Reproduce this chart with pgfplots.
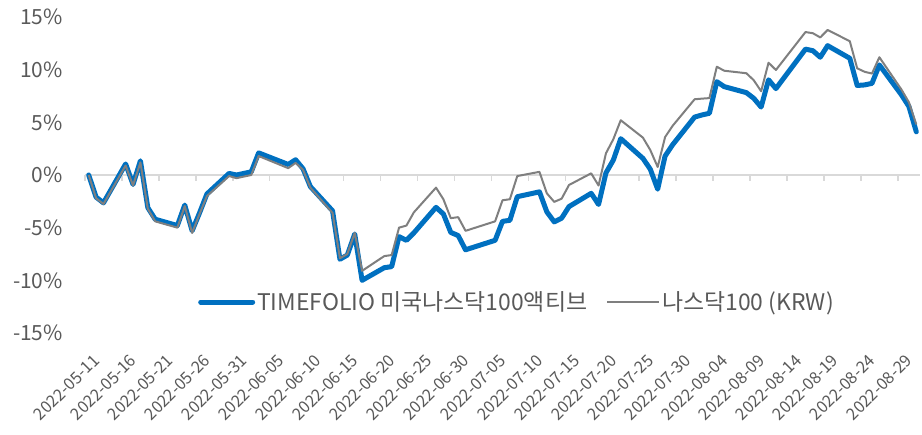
\documentclass[border=0pt]{standalone}
\usepackage{fontspec}
\setmainfont{Noto Sans CJK KR}
\usepackage{pgfplots}
\pgfplotsset{compat=1.18}
\usepackage{pgfplotstable}
\definecolor{tfblue}{HTML}{0070C0}
\definecolor{ndgray}{HTML}{7F7F7F}
\definecolor{txt}{HTML}{595959}
\definecolor{axgray}{HTML}{D9D9D9}

\pgfplotstableread{
day blue gray
0 0.00 0.00
1 -2.10 -2.20
2 -2.65 -2.75
5 1.05 0.90
6 -0.90 -1.00
7 1.35 1.20
8 -3.10 -3.20
9 -4.20 -4.40
12 -4.80 -5.00
13 -2.85 -2.95
14 -5.30 -5.50
15 -3.60 -3.70
16 -1.80 -2.00
19 0.15 -0.10
20 0.00 -0.30
22 0.30 0.00
23 2.10 1.80
27 1.00 0.65
28 1.45 1.15
29 0.60 0.50
30 -1.10 -1.20
33 -3.40 -3.60
34 -8.00 -7.90
35 -7.60 -7.50
36 -5.60 -5.50
37 -10.00 -9.10
40 -8.80 -7.70
41 -8.70 -7.60
42 -5.85 -5.00
43 -6.20 -4.80
44 -5.50 -3.55
47 -3.07 -1.20
48 -3.70 -2.30
49 -5.45 -4.10
50 -5.75 -4.00
51 -7.10 -5.30
55 -6.20 -4.40
56 -4.40 -2.40
57 -4.30 -2.30
58 -2.06 -0.10
61 -1.60 0.30
62 -3.50 -1.74
63 -4.45 -2.55
64 -4.10 -2.25
65 -3.00 -0.95
68 -1.74 0.16
69 -2.80 -1.00
70 0.20 2.06
71 1.42 3.40
72 3.45 5.20
75 1.58 3.55
76 0.55 2.37
77 -1.35 0.76
78 1.80 3.60
79 2.85 4.65
82 5.50 7.19
83 5.70 7.25
84 5.86 7.30
85 8.86 10.28
86 8.39 9.90
89 7.82 9.66
90 7.28 9.00
91 6.45 7.95
92 9.04 10.66
93 8.20 9.97
97 11.95 13.57
98 11.80 13.46
99 11.18 13.06
100 12.28 13.77
103 11.08 12.70
104 8.50 10.13
105 8.55 9.80
106 8.70 9.63
107 10.45 11.18
110 7.60 8.10
111 6.50 6.90
112 4.10 4.80
}\data

\begin{document}
\begin{tikzpicture}
\path[use as bounding box] (-85bp,-102bp) rectangle (837bp,333bp);
% zero line with tick marks
\begin{axis}[at={(0,0)}, anchor=south west, scale only axis,
  width=835bp, height=316bp,
  xmin=-0.5, xmax=112.5, ymin=-15, ymax=15,
  axis x line*=middle, axis y line=none,
  xtick={-0.5,4.5,...,109.5},
  xticklabels={,,,,,,,,,,,,,,,,,,,,,,,},
  ytick=\empty,
  tick align=outside, major tick length=6bp,
  x axis line style={axgray, line width=1.5bp},
  x tick style={axgray, line width=1.5bp}]
\end{axis}
% main axis with data
\begin{axis}[at={(0,0)}, anchor=south west, scale only axis,
  width=835bp, height=316bp,
  xmin=-0.5, xmax=112.5, ymin=-15, ymax=15,
  clip=false,
  axis line style={draw=none},
  major tick length=0pt,
  xtick={0.45,5.45,...,110.45},
  xticklabels={2022-05-11,2022-05-16,2022-05-21,2022-05-26,2022-05-31,2022-06-05,2022-06-10,2022-06-15,2022-06-20,2022-06-25,2022-06-30,2022-07-05,2022-07-10,2022-07-15,2022-07-20,2022-07-25,2022-07-30,2022-08-04,2022-08-09,2022-08-14,2022-08-19,2022-08-24,2022-08-29},
  ytick={-15,-10,...,15},
  yticklabels={-15\%,-10\%,-5\%,0\%,5\%,10\%,15\%},
  yticklabel style={font=\fontsize{21}{24}\selectfont, text=txt, inner sep=0pt, xshift=-22bp},
  xticklabel style={font=\fontsize{16.5}{20}\selectfont, text=txt, rotate=45, anchor=north east, inner sep=0pt},
  xticklabel shift=20bp,
  legend columns=2,
  legend style={draw=none, fill=none, at={(0.1353,0.098)}, anchor=west,
    font=\fontsize{23}{26}\selectfont, text=txt, inner sep=0pt,
    /tikz/every even column/.append style={column sep=17bp}},
  legend image code/.code={\draw[#1] (0bp,0bp) -- (52bp,0bp);},
  ]
\addplot[tfblue, line width=5bp, line join=round, line cap=round] table[x=day, y=blue]{\data};
\addlegendentry{TIMEFOLIO 미국나스닥100액티브}
\addplot[ndgray, line width=2bp, line join=round] table[x=day, y=gray]{\data};
\addlegendentry{나스닥100 (KRW)}
\end{axis}
\end{tikzpicture}
\end{document}
